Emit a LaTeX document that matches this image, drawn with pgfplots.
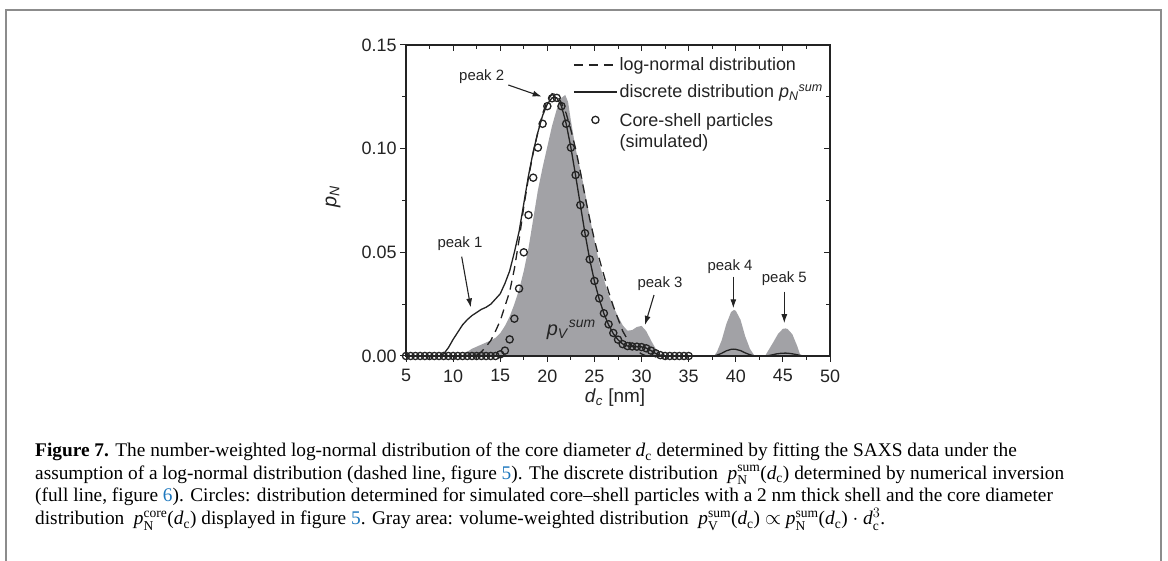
\documentclass[border=0pt]{standalone}
\usepackage{pgfplots}
\pgfplotsset{compat=1.18}
\usepackage{amsmath}
\usepackage{fontspec}
\setmainfont{Liberation Sans}
\newfontfamily\capfont{Liberation Serif}
\usetikzlibrary{arrows.meta}
\definecolor{areagray}{RGB}{162,162,166}
\definecolor{ink}{RGB}{35,35,35}
\definecolor{framegray}{RGB}{140,140,140}
\definecolor{linkblue}{RGB}{30,120,190}

\pgfplotstableread{
x y
5 0
11 0
11.5 0.002
12 0.0035
12.5 0.0045
13 0.0055
13.5 0.0065
14 0.0075
14.5 0.0088
15 0.011
15.5 0.0145
16 0.019
16.5 0.025
17 0.032
17.5 0.041
18 0.052
18.5 0.066
19 0.080
19.5 0.091
20 0.101
20.5 0.111
21 0.119
21.5 0.1245
21.9 0.1259
22.2 0.1225
22.5 0.1135
23 0.100
23.5 0.090
24 0.079
24.5 0.067
25 0.056
25.5 0.045
26 0.037
26.5 0.0295
27 0.024
27.5 0.019
28 0.0148
28.5 0.0122
29 0.0125
29.5 0.014
30 0.0145
30.5 0.012
31 0.0075
31.5 0.0035
32 0.001
32.5 0
37.7 0
38 0.002
38.5 0.0075
39 0.0155
39.5 0.0212
39.8 0.0222
40 0.0218
40.5 0.0175
41 0.0095
41.5 0.0035
42 0
43.1 0
43.5 0.003
44 0.0068
44.5 0.0108
45 0.0131
45.3 0.0133
45.5 0.0130
46 0.0105
46.5 0.005
46.8 0.001
47 0
}\pvsum

\pgfplotstableread{
x y
12.5 0.0005
13 0.002
13.5 0.0045
14 0.0075
14.5 0.012
15 0.017
15.5 0.024
16 0.031
16.5 0.042
17 0.056
17.5 0.072
18 0.086
18.5 0.098
19 0.108
19.5 0.117
20 0.123
20.5 0.1265
21 0.126
21.5 0.122
22 0.117
22.5 0.109
23 0.100
23.5 0.089
24 0.077
24.5 0.066
25 0.056
25.5 0.047
26 0.039
26.5 0.031
27 0.024
27.5 0.018
28 0.012
28.5 0.008
29 0.005
29.5 0.0025
30 0.001
30.5 0
}\lognormal

\pgfplotstableread{
x y
5 0
8.5 0
9 0.001
9.5 0.004
10 0.008
10.5 0.0115
11 0.015
11.5 0.0175
12 0.0195
12.5 0.021
13 0.0225
13.5 0.0235
14 0.025
14.5 0.0275
15 0.030
15.5 0.035
16 0.041
16.5 0.050
17 0.060
17.5 0.0735
18 0.087
18.5 0.0985
19 0.108
19.5 0.116
20 0.1215
20.5 0.1245
21 0.1245
21.5 0.1205
22 0.112
22.5 0.1005
23 0.087
23.5 0.073
24 0.059
24.5 0.0465
25 0.036
25.5 0.0275
26 0.0205
26.5 0.015
27 0.0108
27.5 0.0078
28 0.0058
28.5 0.0048
29 0.0046
29.5 0.0045
30 0.0044
30.5 0.0038
31 0.0026
31.5 0.0012
32 0.0003
32.5 0
37.7 0
38 0.0004
38.5 0.0013
39 0.0025
39.5 0.0032
39.8 0.0033
40 0.0032
40.5 0.0026
41 0.0015
41.5 0.0006
42 0
43.3 0
43.8 0.0005
44.3 0.001
44.8 0.0013
45.3 0.0014
45.8 0.0012
46.3 0.0008
46.8 0.0003
47.2 0
}\discrete

\pgfplotstableread{
x y
5 0
5.5 0
6 0
6.5 0
7 0
7.5 0
8 0
8.5 0
9 0
9.5 0
10 0
10.5 0
11 0
11.5 0
12 0
12.5 0
13 0
13.5 0
14 0
14.5 0
15 0.0008
15.5 0.0026
16 0.008
16.5 0.018
17 0.0325
17.5 0.050
18 0.068
18.5 0.086
19 0.1005
19.5 0.112
20 0.1205
20.5 0.1243
21 0.1245
21.5 0.1205
22 0.112
22.5 0.1005
23 0.0873
23.5 0.0728
24 0.0592
24.5 0.0466
25 0.0362
25.5 0.0278
26 0.0206
26.5 0.0153
27 0.0111
27.5 0.0079
28 0.0057
28.5 0.0048
29 0.0046
29.5 0.0045
30 0.0043
30.5 0.0037
31 0.0026
31.5 0.0013
32 0.0004
32.5 0
33 0
33.5 0
34 0
34.5 0
35 0
}\coreshell

\begin{document}
\begin{tikzpicture}[x=1bp,y=1bp]
\useasboundingbox (0,0) rectangle (1168,561);
\draw[framegray, line width=1.5bp] (6,0) -- (6,551) -- (1161,551) -- (1161,0);

\begin{axis}[
  at={(406bp,205bp)}, anchor=south west,
  width=424bp, height=311bp, scale only axis,
  xmin=5, xmax=50, ymin=0, ymax=0.15,
  xtick={5,10,...,50}, minor x tick num=1,
  ytick={0,0.05,0.1,0.15}, minor y tick num=1,
  tick align=outside, xtick pos=bottom, ytick pos=left,
  major tick length=6bp, minor tick length=4bp,
  axis line style={ink, line width=1.1bp},
  every tick/.append style={ink, line width=1.0bp},
  tick label style={font=\fontsize{18}{20}\selectfont, text=ink},
  xticklabel style={yshift=-4bp},
  /pgf/number format/assume math mode=true,
  yticklabel style={/pgf/number format/.cd, fixed, fixed zerofill, precision=2},
  scaled y ticks=false,
  xlabel={\textit{d}\textsubscript{\textit{c}} [nm]},
  xlabel style={at={(axis description cs:0.493,-0.135)}, anchor=center, font=\fontsize{19}{21}\selectfont, text=ink},
  ylabel={\textit{p}\textsubscript{\textit{N}}},
  ylabel style={at={(axis description cs:-0.172,0.511)}, anchor=center, font=\fontsize{20}{22}\selectfont, text=ink},
  clip=false,
  legend image code/.code={\draw[mark repeat=2,mark phase=2,#1] plot coordinates {(0bp,0bp) (21.5bp,0bp) (43bp,0bp)};},
  legend style={at={(axis description cs:0.387,0.972)}, anchor=north west, draw=none, fill=none,
    font=\fontsize{18}{21}\selectfont, text=ink, row sep=8.5bp},
  legend cell align=left,
]
\addplot[fill=areagray, draw=none, forget plot] table {\pvsum} \closedcycle;
\addplot[ink, line width=1.3bp, dash pattern=on 9bp off 6bp] table {\lognormal};
\addlegendentry{log-normal distribution}
\addplot[ink, line width=1.3bp] table {\discrete};
\addlegendentry{discrete distribution \textit{p}\textsubscript{\textit{N}}\textsuperscript{\textit{sum}}}
\addplot[ink, only marks, mark=o, mark size=3.6bp, line width=1.3bp] table {\coreshell};
\addlegendentry{\begin{tabular}[t]{@{}l@{}}Core-shell particles\\(simulated)\end{tabular}}

\node[anchor=base west, font=\fontsize{20}{22}\selectfont, text=ink, inner sep=0] at (axis cs:19.93,0.0099) {\textit{p}\textsubscript{\textit{V}}\textsuperscript{\textit{sum}}};

\node[font=\fontsize{15}{17}\selectfont, text=ink] at (axis cs:13.03,0.1347) {peak 2};
\draw[ink, line width=1.1bp, -{Latex[length=9bp,width=6bp]}] (axis cs:15.86,0.1307) -- (axis cs:19.40,0.1251);
\node[font=\fontsize{15}{17}\selectfont, text=ink] at (axis cs:10.73,0.0544) {peak 1};
\draw[ink, line width=1.1bp, -{Latex[length=9bp,width=6bp]}] (axis cs:10.91,0.0479) -- (axis cs:11.87,0.0234);
\node[font=\fontsize{15}{17}\selectfont, text=ink] at (axis cs:31.96,0.0351) {peak 3};
\draw[ink, line width=1.1bp, -{Latex[length=9bp,width=6bp]}] (axis cs:31.32,0.0294) -- (axis cs:30.37,0.0150);
\node[font=\fontsize{15}{17}\selectfont, text=ink] at (axis cs:39.39,0.0431) {peak 4};
\draw[ink, line width=1.1bp, -{Latex[length=9bp,width=6bp]}] (axis cs:39.74,0.0383) -- (axis cs:39.74,0.0230);
\node[font=\fontsize{15}{17}\selectfont, text=ink] at (axis cs:45.15,0.0375) {peak 5};
\draw[ink, line width=1.1bp, -{Latex[length=9bp,width=6bp]}] (axis cs:45.15,0.0310) -- (axis cs:45.15,0.0158);
\end{axis}

\begin{axis}[
  at={(406bp,205bp)}, anchor=south west,
  width=424bp, height=311bp, scale only axis,
  xmin=5, xmax=50, ymin=0, ymax=0.15,
  xtick={5,10,...,50}, minor x tick num=1,
  ytick={0,0.05,0.1,0.15}, minor y tick num=1,
  tick align=inside, xtick pos=top, ytick pos=right,
  major tick length=6bp, minor tick length=4bp,
  axis line style={ink, line width=1.1bp},
  every tick/.append style={ink, line width=1.0bp},
  xticklabels={}, yticklabels={},
]
\end{axis}

\begin{scope}[every node/.style={anchor=base west, inner sep=0, font=\capfont\fontsize{19.4}{22}\selectfont}]
\node at (35,104) {\textbf{Figure 7.} The number-weighted log-normal distribution of the core diameter \textit{d}\textsubscript{c} determined by fitting the SAXS data under the};
\node at (35,81.5) {assumption of a log-normal distribution (dashed line, figure \textcolor{linkblue}{5}). The discrete distribution \ \textit{p}$^{\text{sum}}_{\text{N}}$(\textit{d}\textsubscript{c}) determined by numerical inversion};
\node at (35,59) {(full line, figure \textcolor{linkblue}{6}). Circles: distribution determined for simulated core–shell particles with a 2~nm thick shell and the core diameter};
\node at (35,36) {distribution \ \textit{p}$^{\text{core}}_{\text{N}}$(\textit{d}\textsubscript{c}) displayed in figure \textcolor{linkblue}{5}. Gray area: volume-weighted distribution \ \textit{p}$^{\text{sum}}_{\text{V}}$(\textit{d}\textsubscript{c}) $\propto$ \textit{p}$^{\text{sum}}_{\text{N}}$(\textit{d}\textsubscript{c}) $\cdot$ \textit{d}$^{3}_{\text{c}}$.};
\end{scope}
\end{tikzpicture}
\end{document}
